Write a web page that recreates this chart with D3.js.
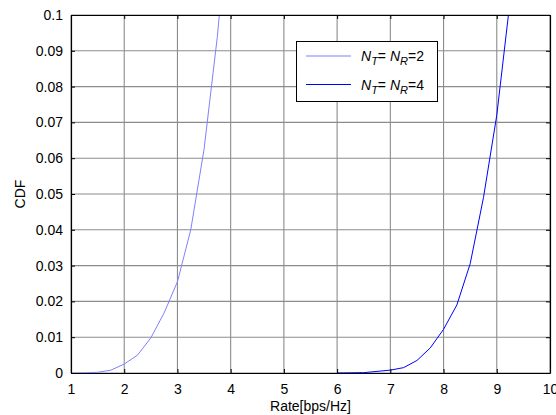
<!DOCTYPE html>
<html>
<head>
<meta charset="utf-8">
<script src="https://cdn.jsdelivr.net/npm/d3@7"></script>
<style>
  html, body { margin: 0; padding: 0; background: #fff; }
  svg { display: block; font-family: "Liberation Sans", Arial, sans-serif; }
</style>
</head>
<body>
<svg id="chart" width="556" height="415"></svg>
<script>
// CDF of achievable rate for two antenna configurations
const rate2 = [1.0, 1.25, 1.5, 1.75, 2.0, 2.25, 2.5, 2.75, 3.0, 3.25, 3.5, 3.75, 4.0];
const cdf2  = [0, 0.00005, 0.0002, 0.0008, 0.0025, 0.005, 0.0098, 0.0168, 0.0255, 0.040, 0.0625, 0.094, 0.135];
const rate4 = [6.0, 6.5, 7.0, 7.25, 7.5, 7.75, 8.0, 8.25, 8.5, 8.75, 9.0, 9.25, 9.5];
const cdf4  = [0, 0.0001, 0.0008, 0.0015, 0.0035, 0.007, 0.0122, 0.019, 0.0305, 0.049, 0.072, 0.104, 0.15];
const seriesNames = ["2", "4"];
const seriesColors = ["#8080ff", "#0000ff"];
const xTicks = [1, 2, 3, 4, 5, 6, 7, 8, 9, 10];
const yTicks = [0, 0.01, 0.02, 0.03, 0.04, 0.05, 0.06, 0.07, 0.08, 0.09, 0.1];

const svg = d3.select("#chart");
const L = 71, R = 550, T = 15, B = 373;
const x = d3.scaleLinear().domain([1, 10]).range([L, R]);
const y = d3.scaleLinear().domain([0, 0.1]).range([B, T]);

// grid
const grid = svg.append("g").attr("stroke", "#8c8c8c").attr("stroke-width", 1.1);
xTicks.forEach(t => grid.append("line").attr("x1", x(t)).attr("x2", x(t)).attr("y1", T).attr("y2", B));
yTicks.forEach(t => grid.append("line").attr("x1", L).attr("x2", R).attr("y1", y(t)).attr("y2", y(t)));

// curves
svg.append("clipPath").attr("id", "plotclip")
  .append("rect").attr("x", L).attr("y", T).attr("width", R - L).attr("height", B - T);
const line = d3.line().x(d => x(d[0])).y(d => y(d[1]));
const data = [d3.zip(rate2, cdf2), d3.zip(rate4, cdf4)];
data.forEach((d, i) => {
  svg.append("path").datum(d).attr("d", line)
    .attr("fill", "none").attr("stroke", seriesColors[i]).attr("stroke-width", 1)
    .attr("clip-path", "url(#plotclip)");
});

// axes box with inward ticks
const fmtY = d => d === 0 ? "0" : d3.format(".2~f")(d);
const axB = d3.axisBottom(x).tickValues(xTicks).tickSizeInner(-4).tickSizeOuter(0).tickPadding(11).tickFormat(d3.format("d"));
const axT = d3.axisTop(x).tickValues(xTicks).tickSizeInner(-4).tickSizeOuter(0).tickFormat("");
const axL = d3.axisLeft(y).tickValues(yTicks).tickSizeInner(-4).tickSizeOuter(0).tickPadding(8).tickFormat(fmtY);
const axR = d3.axisRight(y).tickValues(yTicks).tickSizeInner(-4).tickSizeOuter(0).tickFormat("");
const styleAxis = g => {
  g.select(".domain").attr("stroke", "#000").attr("stroke-width", 1.2);
  g.selectAll(".tick line").attr("stroke", "#000");
  g.selectAll("text").attr("font-size", 14).attr("fill", "#000").attr("font-family", "Liberation Sans, Arial, sans-serif");
};
svg.append("g").attr("transform", `translate(0,${B})`).call(axB).call(styleAxis);
svg.append("g").attr("transform", `translate(0,${T})`).call(axT).call(styleAxis);
svg.append("g").attr("transform", `translate(${L},0)`).call(axL).call(styleAxis);
svg.append("g").attr("transform", `translate(${R},0)`).call(axR).call(styleAxis);

// axis titles
svg.append("text").attr("x", (L + R) / 2).attr("y", 411).attr("text-anchor", "middle")
  .attr("font-size", 14).text("Rate[bps/Hz]");
svg.append("text").attr("transform", `translate(25,${(T + B) / 2}) rotate(-90)`)
  .attr("text-anchor", "middle").attr("font-size", 14).text("CDF");

// legend
const lg = svg.append("g");
lg.append("rect").attr("x", 296.5).attr("y", 41.5).attr("width", 141).attr("height", 60)
  .attr("fill", "#fff").attr("stroke", "#000").attr("stroke-width", 1);
seriesNames.forEach((n, i) => {
  const ly = 56 + i * 28.5;
  lg.append("line").attr("x1", 306).attr("x2", 351).attr("y1", ly).attr("y2", ly)
    .attr("stroke", seriesColors[i]).attr("stroke-width", 1);
  const t = lg.append("text").attr("x", 361).attr("y", ly + 5).attr("font-size", 14);
  t.append("tspan").attr("font-style", "italic").text("N");
  t.append("tspan").attr("font-style", "italic").attr("font-size", 11).attr("dy", 4).text("T");
  t.append("tspan").attr("dy", -4).text("= ");
  t.append("tspan").attr("font-style", "italic").text("N");
  t.append("tspan").attr("font-style", "italic").attr("font-size", 11).attr("dy", 4).text("R");
  t.append("tspan").attr("dy", -4).text("=" + n);
});
</script>
</body>
</html>
